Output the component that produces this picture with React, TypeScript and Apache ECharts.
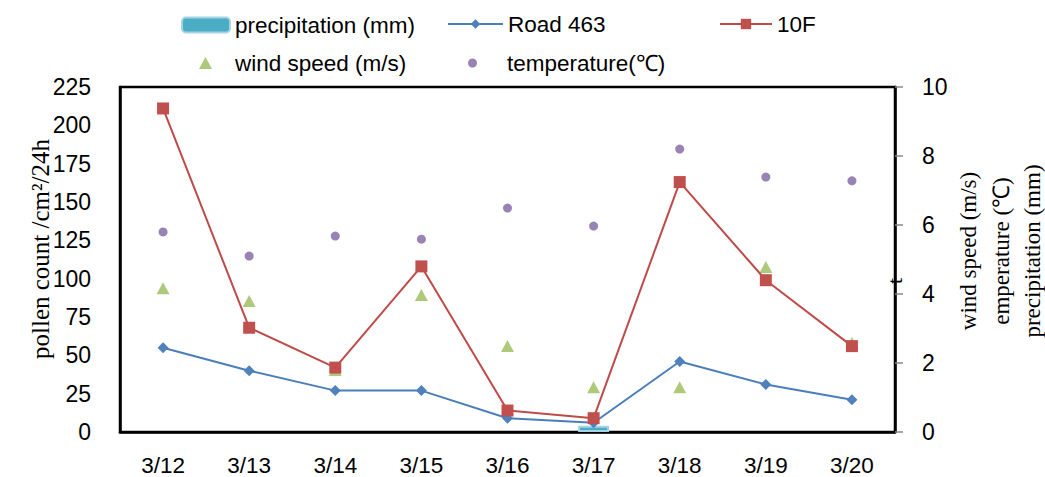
import React, { useEffect, useRef } from "react";
import * as echarts from "echarts";

// Sampling dates
const dates = ["3/12", "3/13", "3/14", "3/15", "3/16", "3/17", "3/18", "3/19", "3/20"];

// Pollen counts (grains /cm²/24h)
const road463 = [55, 40, 27, 27, 9, 6, 46, 31, 21];
const tenF = [211, 68, 42, 108, 14, 9, 163, 99, 56];

// Weather
const precipitation = [0, 0, 0, 0, 0, 0.18, 0, 0, 0];
const windSpeed = [4.17, 3.8, 1.8, 3.97, 2.49, 1.3, 1.3, 4.78, 2.58];
const temperature = [5.8, 5.1, 5.68, 5.59, 6.49, 5.97, 8.2, 7.39, 7.28];

// Right-hand axis title, one rotated line each
const rightTitleLines = ["wind speed (m/s)", "emperature (℃)", "precipitation (mm)"];

const SANS = "'Liberation Sans', Arial, sans-serif";
const SERIF = "'Liberation Serif', 'Times New Roman', serif";

const legendText = { fontFamily: SANS, fontSize: 22.5, color: "#000", lineHeight: 24 };

const vText = (text: string, x: number, y: number, size: number) => ({
  type: "text",
  x,
  y,
  rotation: Math.PI / 2,
  style: {
    text,
    font: `${size}px ${SERIF}`,
    fill: "#000",
    align: "center",
    verticalAlign: "middle",
  },
});

export default function App() {
  const ref = useRef<HTMLDivElement>(null);

  useEffect(() => {
    if (!ref.current) return;
    const chart = echarts.init(ref.current, null, { renderer: "svg" });

    chart.setOption({
      animation: false,
      backgroundColor: "#fff",
      grid: {
        left: 120,
        right: 150,
        top: 87,
        bottom: 45,
        outerBoundsMode: "none",
        containLabel: false,
        show: true,
        borderColor: "#000",
        borderWidth: 2.5,
        backgroundColor: "transparent",
      },
      legend: [
        {
          data: ["precipitation (mm)"],
          left: 181,
          top: 13,
          padding: 0,
          itemWidth: 48,
          itemHeight: 15,
          textStyle: legendText,
        },
        {
          data: ["Road 463"],
          left: 447,
          top: 12,
          padding: 0,
          itemWidth: 55,
          itemHeight: 12,
          textStyle: legendText,
        },
        {
          data: ["10F"],
          left: 719,
          top: 12,
          padding: 0,
          itemWidth: 52,
          itemHeight: 13,
          textStyle: legendText,
        },
        {
          data: ["wind speed (m/s)"],
          left: 199,
          top: 51,
          padding: 0,
          itemWidth: 13,
          itemHeight: 12,
          textStyle: { ...legendText, padding: [0, 0, 0, 18] },
        },
        {
          data: ["temperature(℃)"],
          left: 468,
          top: 51,
          padding: 0,
          itemWidth: 9,
          itemHeight: 9,
          textStyle: { ...legendText, padding: [0, 0, 0, 25] },
        },
      ],
      xAxis: {
        type: "category",
        data: dates,
        boundaryGap: true,
        axisLine: { lineStyle: { color: "#000", width: 2.5 } },
        axisTick: { show: false },
        axisLabel: {
          margin: 23,
          fontFamily: SANS,
          fontSize: 22.5,
          lineHeight: 20,
          color: "#000",
        },
      },
      yAxis: [
        {
          type: "value",
          min: 0,
          max: 225,
          interval: 25,
          axisLine: { show: true, lineStyle: { color: "#000", width: 2.5 } },
          axisTick: { show: false },
          splitLine: { show: false },
          axisLabel: {
            margin: 29,
            fontFamily: SANS,
            fontSize: 23,
            color: "#000",
          },
        },
        {
          type: "value",
          min: 0,
          max: 10,
          interval: 2,
          position: "right",
          axisLine: { show: true, lineStyle: { color: "#000", width: 2.5 } },
          axisTick: {
            show: true,
            inside: false,
            length: 8,
            lineStyle: { color: "#888", width: 1.5 },
          },
          splitLine: { show: false },
          axisLabel: {
            margin: 27,
            fontFamily: SANS,
            fontSize: 23,
            color: "#000",
          },
        },
      ],
      graphic: [
        // left axis title
        vText("pollen count /cm²/24h", 40, 249, 25),
        // right axis title
        vText(rightTitleLines[0], 968, 251, 23),
        vText(rightTitleLines[1], 1001, 251, 23),
        vText(rightTitleLines[2], 1032, 251, 23),
        // stray letter sitting on the right axis line
        vText("t", 894, 281, 22),
      ],
      series: [
        {
          name: "precipitation (mm)",
          type: "bar",
          yAxisIndex: 1,
          data: precipitation.map((v) => (v > 0 ? v : "-")),
          barWidth: 31,
          itemStyle: { color: "#4BACC6", borderColor: "#A5D5E4", borderWidth: 2 },
          z: 1,
        },
        {
          name: "Road 463",
          type: "line",
          data: road463,
          symbol: "diamond",
          symbolSize: 11,
          lineStyle: { color: "#4A7EBB", width: 2 },
          itemStyle: { color: "#4F81BD" },
          z: 3,
        },
        {
          name: "10F",
          type: "line",
          data: tenF,
          symbol: "rect",
          symbolSize: 12,
          lineStyle: { color: "#BE4B48", width: 2 },
          itemStyle: { color: "#C0504D" },
          z: 4,
        },
        {
          name: "wind speed (m/s)",
          type: "scatter",
          yAxisIndex: 1,
          data: windSpeed,
          symbol: "triangle",
          symbolSize: [13, 12],
          itemStyle: { color: "#9BBB59" },
          z: 2,
        },
        {
          name: "temperature(℃)",
          type: "scatter",
          yAxisIndex: 1,
          data: temperature,
          symbol: "circle",
          symbolSize: 9,
          itemStyle: { color: "#8064A2" },
          z: 2,
        },
      ],
    });

    return () => chart.dispose();
  }, []);

  return (
    <div
      ref={ref}
      style={{ position: "fixed", left: 0, top: 0, width: 1045, height: 477 }}
    />
  );
}
